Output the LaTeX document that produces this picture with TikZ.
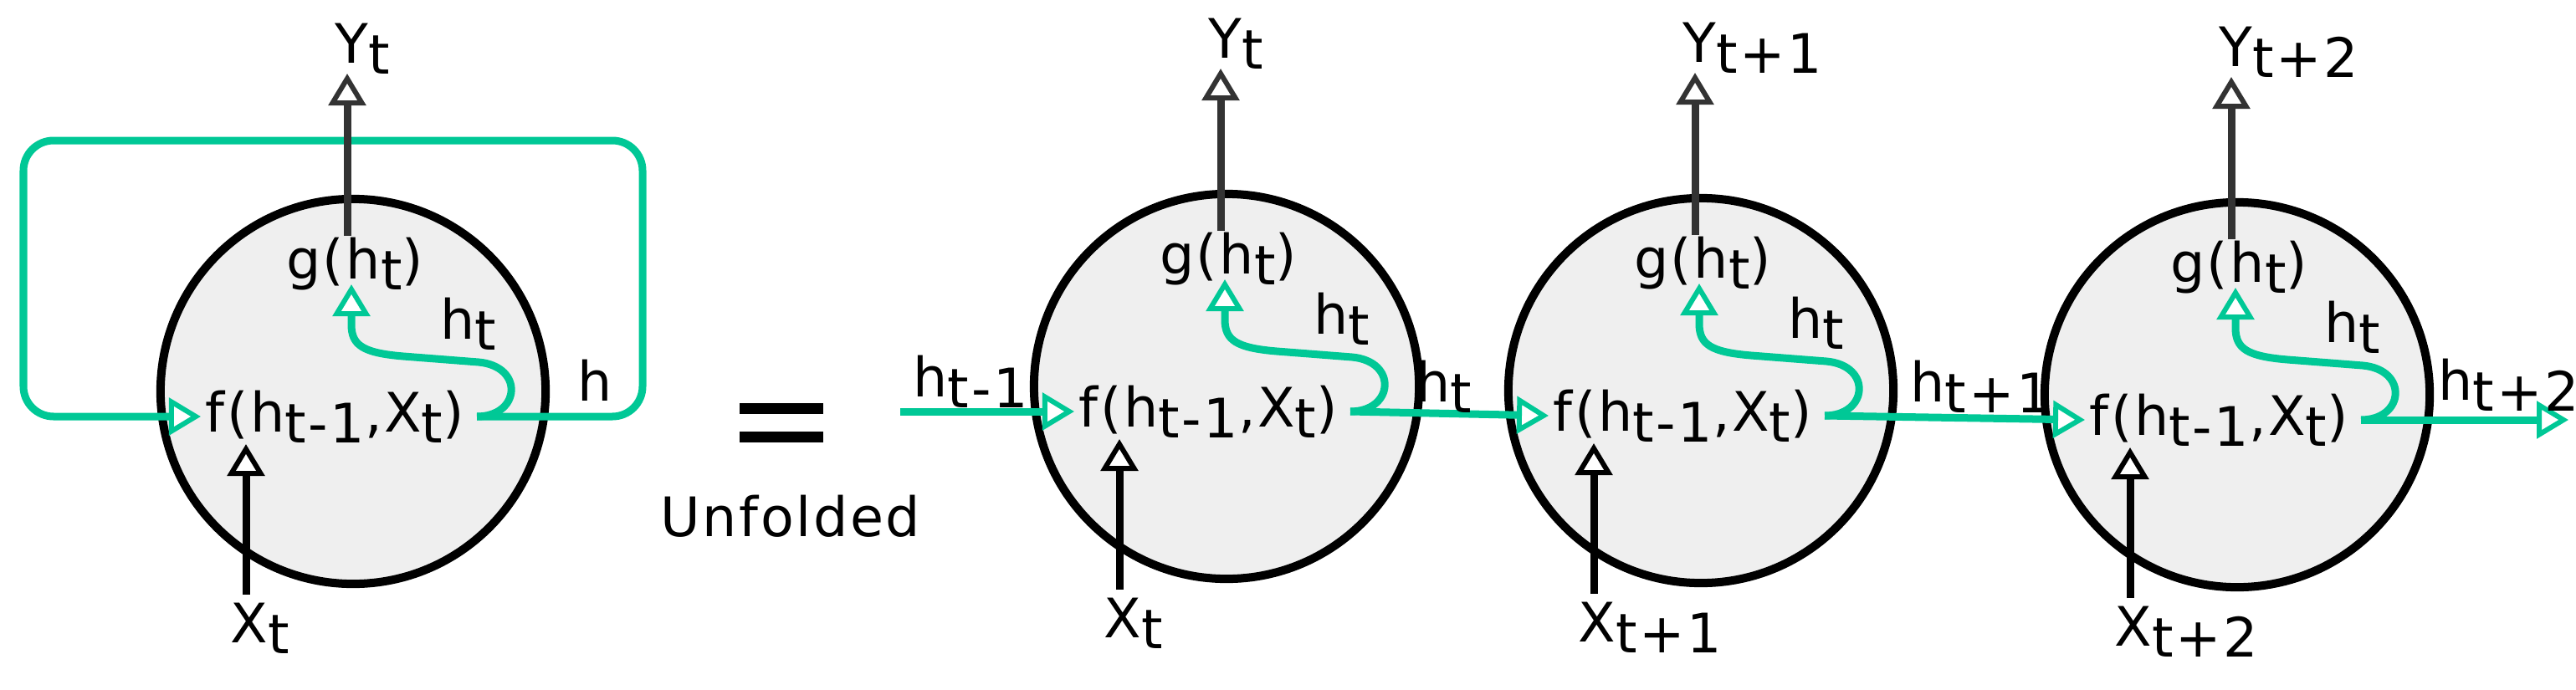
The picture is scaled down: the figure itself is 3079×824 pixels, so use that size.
\documentclass[tikz,border=0pt]{standalone}
\usepackage{fontspec}
\setmainfont{DejaVu Sans}[LetterSpace=4]
\usetikzlibrary{arrows.meta,calc}
\definecolor{tealc}{RGB}{0,200,150}
\definecolor{darkg}{RGB}{51,51,51}
\definecolor{cellfill}{RGB}{239,239,239}
\newcommand\sbs[1]{\raisebox{-3.7pt}{#1}}
\tikzset{
  tip/.style={-{Triangle[open,fill=white,length=0.38cm,width=0.44cm,line width=0.06cm]}},
  tealline/.style={draw=tealc,line width=0.09cm,tip},
  cellc/.style={circle,draw=black,line width=0.1cm,fill=cellfill,minimum size=4.6cm,inner sep=0},
  txt/.style={inner sep=0,font=\fontsize{18.5}{21}\selectfont},
  yarr/.style={draw=darkg,line width=0.09cm,tip},
  xarr/.style={draw=black,line width=0.09cm,tip},
}
\newcommand\rnncell[5]{% id, cx, cy, Y label, X label
  \node[cellc] (c#1) at (#2,#3) {};
  \node[txt,anchor=base west] (f#1) at (#2-177,#3+48) {f(h\sbs{t-1},X\sbs{t})};
  \node[txt,anchor=base] (g#1) at (#2+2,#3-135) {g(h\sbs{t})};
  \node[txt,anchor=base west] (hl#1) at (#2+104,#3-63) {h\sbs{t}};
  \coordinate (fin#1) at (#2-182,#3+30);
  \coordinate (fout#1) at (#2+148,#3+30);
  \coordinate (gin#1) at (#2-2,#3-128);
  \coordinate (ys#1) at (#2-7,#3-186);
  \coordinate (ye#1) at (#2-7,#3-380);
  \coordinate (xs#1) at (#2-128,#3+243);
  \coordinate (xe#1) at (#2-128,#3+63);
  \node[txt,anchor=base west] (yl#1) at (#2-22,#3-393) {Y\sbs{#4}};
  \node[txt,anchor=base west] (xl#1) at (#2-147,#3+300) {X\sbs{#5}};
  \draw[tealline] (fout#1) .. controls (#2+200,#3+30) and (#2+205,#3-30) .. (#2+150,#3-35)
     -- (#2+60,#3-42) .. controls (#2+12,#3-46) and (#2-2,#3-55) .. (#2-2,#3-80) -- (gin#1);
  \draw[xarr] (xs#1) -- (xe#1);
}
\begin{document}
\begin{tikzpicture}[x=0.01cm,y=-0.01cm]
\useasboundingbox (0,0) rectangle (3079,824);
\rnncell{1}{422}{468}{t}{t}
\draw[tealline,rounded corners=0.36cm] (fout1) -- (768,498) -- (768,168) -- (28,168) -- (28,498) -- (fin1);
\draw[yarr] (ys1) -- (ye1);
\node[txt,anchor=base west] (hh1) at (690,479) {h};
% equals sign
\fill (884,482) rectangle (984,495);
\fill (884,516) rectangle (984,529);
\node[txt] (unf) at (945,617) {Unfolded};
\rnncell{2}{1466}{462}{t}{t}
\rnncell{3}{2033}{467}{t+1}{t+1}
\rnncell{4}{2674}{472}{t+2}{t+2}
\draw[yarr] (ys2) -- (ye2);
\draw[yarr] (ys3) -- (ye3);
\draw[yarr] (ys4) -- (ye4);
\coordinate (start) at (1076,492);
\coordinate (end) at (3070,502);
\draw[tealline] (start) -- (fin2);
\draw[tealline] (fout2) -- (fin3);
\draw[tealline] (fout3) -- (fin4);
\draw[tealline] (fout4) -- (end);
\node[txt,anchor=base west] (lhm1) at (1091,474) {h\sbs{t-1}};
\node[txt,anchor=base west] (lh0) at (1692,480) {h\sbs{t}};
\node[txt,anchor=base west] (lh1) at (2283,480) {h\sbs{t+1}};
\node[txt,anchor=base west] (lh2) at (2914,478) {h\sbs{t+2}};
\end{tikzpicture}
\end{document}
